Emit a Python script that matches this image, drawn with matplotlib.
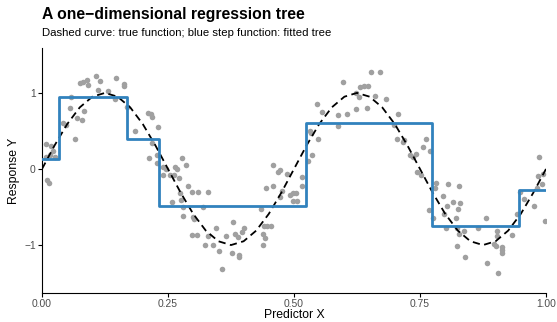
import matplotlib
matplotlib.use("Agg")
import matplotlib.pyplot as plt
import numpy as np

plt.rcParams['font.family'] = ['Liberation Sans', 'DejaVu Sans']

x_obs = [0.007, 0.017, 0.021, 0.016, 0.025, 0.007, 0.009, 0.014, 0.041, 0.048,
         0.066, 0.056, 0.058, 0.070, 0.080, 0.084, 0.076, 0.082, 0.089, 0.092,
         0.108, 0.115, 0.112, 0.130, 0.146, 0.162, 0.162, 0.144, 0.168,
         0.185, 0.210, 0.216, 0.219, 0.231, 0.218, 0.213, 0.228, 0.228, 0.241,
         0.247, 0.241, 0.254, 0.264, 0.267, 0.262, 0.272, 0.277, 0.285, 0.290,
         0.297, 0.310, 0.329, 0.274, 0.257, 0.276, 0.280, 0.279, 0.300, 0.302,
         0.320, 0.297, 0.307, 0.329, 0.323,
         0.345, 0.339, 0.352, 0.366, 0.378, 0.383, 0.389, 0.396, 0.401, 0.376,
         0.391, 0.391, 0.357, 0.435, 0.444, 0.458, 0.469, 0.472, 0.486, 0.459,
         0.476, 0.472, 0.492, 0.499, 0.499, 0.441, 0.446, 0.454, 0.439, 0.442,
         0.438,
         0.504, 0.505, 0.515, 0.516, 0.527, 0.535, 0.532, 0.534, 0.548, 0.545,
         0.556, 0.587, 0.605, 0.587, 0.598, 0.624, 0.644, 0.624, 0.629, 0.631,
         0.638, 0.646, 0.653, 0.671, 0.661,
         0.683, 0.707, 0.698, 0.704, 0.718, 0.716, 0.762, 0.755, 0.770, 0.730,
         0.736, 0.743, 0.745, 0.751, 0.782, 0.780, 0.806, 0.828, 0.795, 0.803,
         0.815, 0.829, 0.826, 0.768, 0.776, 0.798, 0.821, 0.802, 0.824, 0.828,
         0.823, 0.838, 0.839,
         0.866, 0.880, 0.902, 0.902, 0.897, 0.901, 0.912, 0.913, 0.913, 0.882,
         0.905, 0.933, 0.942, 0.948, 0.957, 0.977, 0.986, 0.985, 0.995, 0.993,
         0.982, 0.999]
y_obs = [0.33, 0.30, 0.24, 0.18, 0.16, 0.16, -0.14, -0.19, 0.60, 0.58,
         0.39, 0.80, 0.94, 0.67, 0.64, 0.76, 1.13, 1.14, 1.17, 1.11,
         1.22, 1.15, 1.04, 1.02, 1.19, 1.12, 1.09, 0.92, 0.82,
         0.50, 0.73, 0.72, 0.68, 0.55, 0.34, 0.15, 0.18, 0.08, 0.02,
         0.00, -0.08, -0.08, 0.03, 0.00, -0.08, -0.12, 0.14, 0.05, -0.23,
         -0.30, -0.30, -0.30, -0.32, -0.43, -0.41, -0.50, -0.62, -0.63, -0.66,
         -0.50, -0.87, -0.87, -0.88, -1.00,
         -0.77, -1.00, -1.08, -0.88, -0.70, -0.86, -0.89, -0.83, -0.77, -1.11,
         -1.13, -1.16, -1.32, -0.53, -0.25, 0.05, -0.04, -0.01, -0.07, -0.23,
         -0.29, -0.37, -0.34, -0.31, -0.42, -0.75, -0.75, -0.75, -0.85, -0.91,
         -1.00,
         -0.32, -0.42, -0.22, -0.11, 0.10, 0.18, 0.50, 0.47, 0.39, 0.85,
         0.75, 0.71, 0.72, 0.57, 1.14, 0.79, 0.80, 1.00, 0.95, 1.08,
         1.09, 1.09, 1.28, 1.28, 0.96,
         0.92, 0.72, 0.58, 0.40, 0.38, 0.36, 0.39, 0.29, 0.24, 0.18,
         0.16, 0.20, -0.04, -0.08, -0.19, -0.25, -0.20, -0.23, -0.36, -0.48,
         -0.43, -0.45, -0.52, -0.54, -0.65, -0.59, -0.65, -0.78, -0.78, -0.86,
         -1.01, -0.82, -1.16,
         -0.78, -0.64, -0.81, -0.88, -0.99, -1.01, -1.02, -1.06, -1.10, -1.23,
         -1.37, -0.87, -0.59, -0.30, -0.40, -0.48, 0.16, -0.09, -0.07, -0.20,
         -0.25, -0.68]

# true function (dashed), read at steps of 0.025
x_true = [i * 0.025 for i in range(41)]
y_true = [0.00, 0.31, 0.59, 0.81, 0.95, 1.00, 0.95, 0.81, 0.59, 0.31,
          0.00, -0.31, -0.59, -0.81, -0.95, -1.00, -0.95, -0.81, -0.59, -0.31,
          0.00, 0.31, 0.59, 0.81, 0.95, 1.00, 0.95, 0.81, 0.59, 0.31,
          0.00, -0.31, -0.59, -0.81, -0.95, -1.00, -0.95, -0.81, -0.59, -0.31,
          0.00]

# fitted tree: split points and leaf values
splits = [0.0, 0.034, 0.168, 0.232, 0.523, 0.774, 0.946, 1.0]
leaf_values = [0.13, 0.95, 0.40, -0.49, 0.61, -0.75, -0.27]

fig = plt.figure(figsize=(5.57, 3.22), dpi=100)
ax = fig.add_axes([42 / 557, 29 / 322, 504 / 557, 245 / 322])

ax.scatter(x_obs, y_obs, s=16, color='#a0a0a0', linewidths=0, zorder=2)
ax.plot(x_true, y_true, color='black', lw=1.3, linestyle=(0, (4, 2.5)), zorder=3)
ax.step(splits, leaf_values + [leaf_values[-1]], where='post',
        color='#3182bd', lw=2.0, zorder=4)

ax.set_xlim(0, 1)
ax.set_ylim(-1.63, 1.59)
ax.set_xticks([0, 0.25, 0.5, 0.75, 1.0])
ax.set_xticklabels(['0.00', '0.25', '0.50', '0.75', '1.00'])
ax.set_yticks([-1, 0, 1])

for s in ['top', 'right']:
    ax.spines[s].set_visible(False)
for s in ['left', 'bottom']:
    ax.spines[s].set_linewidth(0.8)
ax.tick_params(labelsize=7.4, colors='black', labelcolor='#4d4d4d',
               length=3, width=0.8, pad=1.5)

ax.set_xlabel('Predictor X', fontsize=8.8, labelpad=0)
ax.set_ylabel('Response Y', fontsize=8.8, labelpad=3)

fig.text(42 / 557, 1 - 15 / 322, 'A one\u2212dimensional regression tree',
         fontsize=11.3, fontweight='bold', va='center', ha='left')
fig.text(42 / 557, 1 - 33 / 322, 'Dashed curve: true function; blue step function: fitted tree',
         fontsize=8.2, va='center', ha='left')

plt.savefig('out.png', dpi=100)
